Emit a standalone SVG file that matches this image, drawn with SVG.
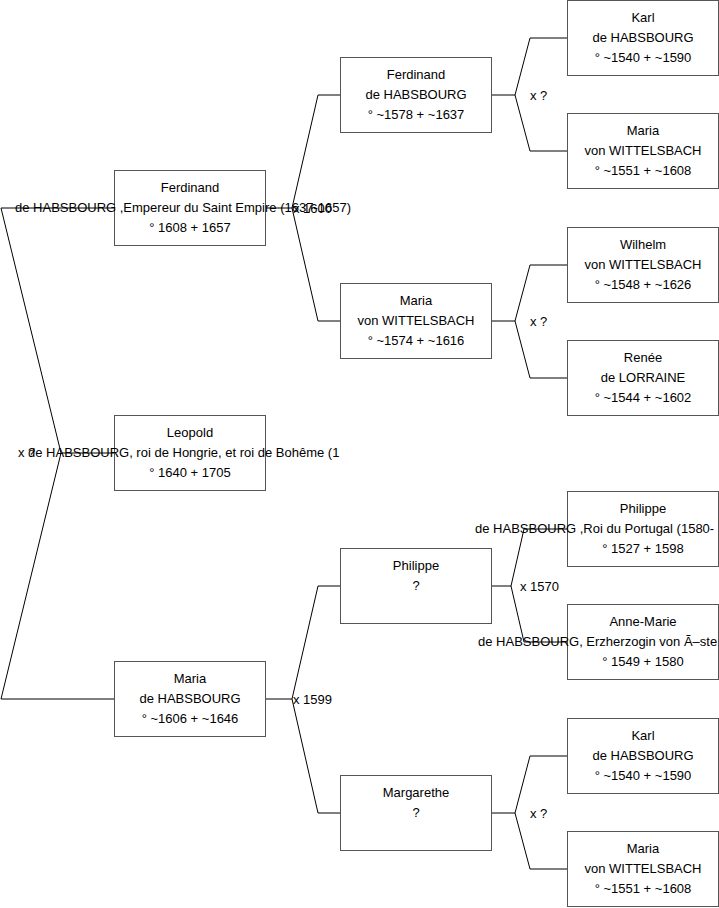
<svg xmlns="http://www.w3.org/2000/svg" width="719" height="908" viewBox="0 0 719 908">
<style>
  .box rect { fill: #ffffff; stroke: #555555; stroke-width: 1; }
  text { font-family: "Liberation Sans", Arial, sans-serif; font-size: 13px; fill: #000000; }
  .m { text-anchor: middle; }
  .conn path { fill: none; stroke: #000000; stroke-width: 1; }
</style>
<rect width="719" height="908" fill="#ffffff"/>
<g id="connectors" class="conn">
  <path d="M1,208 H114.5 M1,208 L61,453 L1,699 M61,453 H114.5 M1,699 H114.5"/>
  <path d="M265.5,208 H292 M318,95 L292,208 L318,321 M318,95 H340.5 M318,321 H340.5"/>
  <path d="M265.5,699 H292 M318,586 L292,699 L318,813 M318,586 H340.5 M318,813 H340.5"/>
  <path d="M491.5,95 H515 M530,38 L515,95 L530,151 M530,38 H567.5 M530,151 H567.5"/>
  <path d="M491.5,321 H515 M530,265 L515,321 L530,378 M530,265 H567.5 M530,378 H567.5"/>
  <path d="M491.5,586 H511 M524,529 L511,586 L524,642 M524,529 H567.5 M524,642 H567.5"/>
  <path d="M491.5,813 H515 M530,756 L515,813 L530,869 M530,756 H567.5 M530,869 H567.5"/>
  <text x="18" y="457">x ?</text>
  <text x="293" y="212.5">x 1600</text>
  <text x="293" y="703.5">x 1599</text>
  <text x="530" y="99.5">x ?</text>
  <text x="530" y="325.5">x ?</text>
  <text x="520" y="590.5">x 1570</text>
  <text x="530" y="817.5">x ?</text>
</g>
<g id="n-ferdinand-1608" class="box">
  <rect x="114.5" y="170.5" width="151" height="75"/>
  <text class="m" x="190" y="191.5">Ferdinand</text>
  <text x="15" y="211.5">de HABSBOURG ,Empereur du Saint Empire (1637-1657)</text>
  <text class="m" x="190" y="231.5">° 1608 + 1657</text>
</g>
<g id="n-leopold-1640" class="box">
  <rect x="114.5" y="415.5" width="151" height="75"/>
  <text class="m" x="190" y="436.5">Leopold</text>
  <text x="28" y="456.5">de HABSBOURG, roi de Hongrie, et roi de Bohême (1</text>
  <text class="m" x="190" y="476.5">° 1640 + 1705</text>
</g>
<g id="n-maria-1606" class="box">
  <rect x="114.5" y="661.5" width="151" height="75"/>
  <text class="m" x="190" y="682.5">Maria</text>
  <text class="m" x="190" y="702.5">de HABSBOURG</text>
  <text class="m" x="190" y="722.5">° ~1606 + ~1646</text>
</g>
<g id="n-ferdinand-1578" class="box">
  <rect x="340.5" y="57.5" width="151" height="75"/>
  <text class="m" x="416" y="78.5">Ferdinand</text>
  <text class="m" x="416" y="98.5">de HABSBOURG</text>
  <text class="m" x="416" y="118.5">° ~1578 + ~1637</text>
</g>
<g id="n-maria-1574" class="box">
  <rect x="340.5" y="283.5" width="151" height="75"/>
  <text class="m" x="416" y="304.5">Maria</text>
  <text class="m" x="416" y="324.5">von WITTELSBACH</text>
  <text class="m" x="416" y="344.5">° ~1574 + ~1616</text>
</g>
<g id="n-philippe-q" class="box">
  <rect x="340.5" y="548.5" width="151" height="75"/>
  <text class="m" x="416" y="569.5">Philippe</text>
  <text class="m" x="416" y="589.5">?</text>
</g>
<g id="n-margarethe-q" class="box">
  <rect x="340.5" y="775.5" width="151" height="75"/>
  <text class="m" x="416" y="796.5">Margarethe</text>
  <text class="m" x="416" y="816.5">?</text>
</g>
<g id="n-karl-1540-a" class="box">
  <rect x="567.5" y="0.5" width="151" height="75"/>
  <text class="m" x="643" y="21.5">Karl</text>
  <text class="m" x="643" y="41.5">de HABSBOURG</text>
  <text class="m" x="643" y="61.5">° ~1540 + ~1590</text>
</g>
<g id="n-maria-1551-a" class="box">
  <rect x="567.5" y="113.5" width="151" height="75"/>
  <text class="m" x="643" y="134.5">Maria</text>
  <text class="m" x="643" y="154.5">von WITTELSBACH</text>
  <text class="m" x="643" y="174.5">° ~1551 + ~1608</text>
</g>
<g id="n-wilhelm-1548" class="box">
  <rect x="567.5" y="227.5" width="151" height="75"/>
  <text class="m" x="643" y="248.5">Wilhelm</text>
  <text class="m" x="643" y="268.5">von WITTELSBACH</text>
  <text class="m" x="643" y="288.5">° ~1548 + ~1626</text>
</g>
<g id="n-renee-1544" class="box">
  <rect x="567.5" y="340.5" width="151" height="75"/>
  <text class="m" x="643" y="361.5">Renée</text>
  <text class="m" x="643" y="381.5">de LORRAINE</text>
  <text class="m" x="643" y="401.5">° ~1544 + ~1602</text>
</g>
<g id="n-philippe-1527" class="box">
  <rect x="567.5" y="491.5" width="151" height="75"/>
  <text class="m" x="643" y="512.5">Philippe</text>
  <text x="475" y="532.5">de HABSBOURG ,Roi du Portugal (1580-</text>
  <text class="m" x="643" y="552.5">° 1527 + 1598</text>
</g>
<g id="n-annemarie-1549" class="box">
  <rect x="567.5" y="604.5" width="151" height="75"/>
  <text class="m" x="643" y="625.5">Anne-Marie</text>
  <text x="478" y="645.5">de HABSBOURG, Erzherzogin von Ã–ste</text>
  <text class="m" x="643" y="665.5">° 1549 + 1580</text>
</g>
<g id="n-karl-1540-b" class="box">
  <rect x="567.5" y="718.5" width="151" height="75"/>
  <text class="m" x="643" y="739.5">Karl</text>
  <text class="m" x="643" y="759.5">de HABSBOURG</text>
  <text class="m" x="643" y="779.5">° ~1540 + ~1590</text>
</g>
<g id="n-maria-1551-b" class="box">
  <rect x="567.5" y="831.5" width="151" height="75"/>
  <text class="m" x="643" y="852.5">Maria</text>
  <text class="m" x="643" y="872.5">von WITTELSBACH</text>
  <text class="m" x="643" y="892.5">° ~1551 + ~1608</text>
</g>
</svg>
